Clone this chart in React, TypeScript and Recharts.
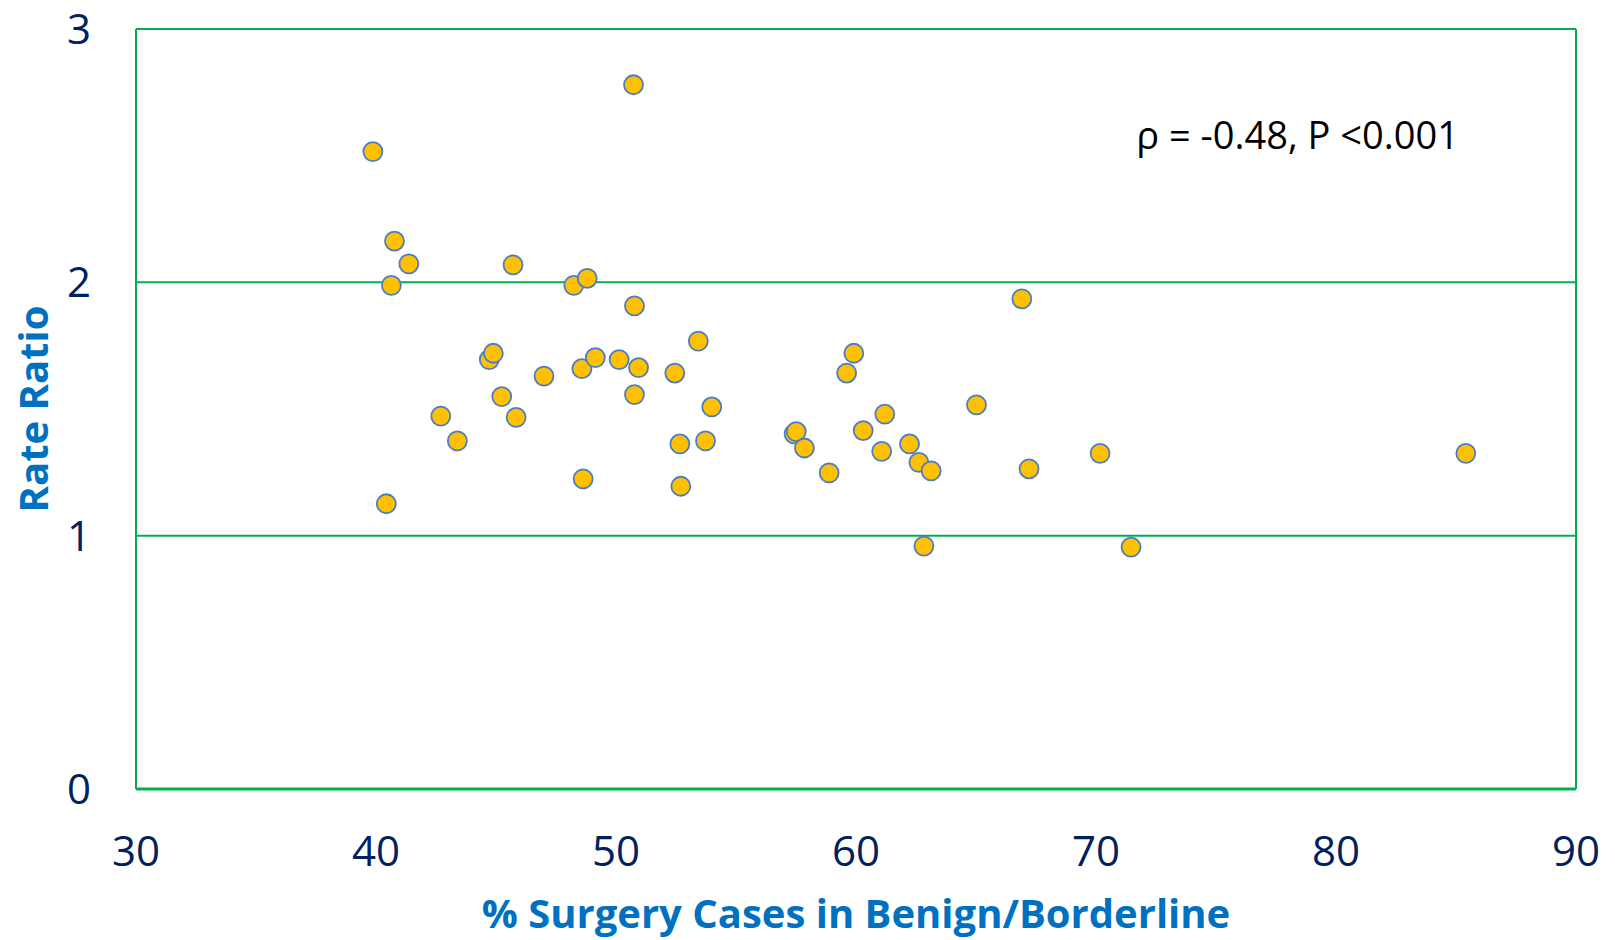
import React from "react";
import {
  ScatterChart,
  Scatter,
  XAxis,
  YAxis,
  CartesianGrid,
  ReferenceLine,
  ReferenceDot,
  Label,
} from "recharts";

// % of surgery cases in benign/borderline
const pctBenign = [
  39.87, 50.73, 40.77, 41.37, 40.64, 45.71, 48.24, 48.8, 50.77, 66.91,
  44.72, 44.89, 45.24, 45.84, 42.7, 43.39, 40.43, 47.0, 48.58, 49.14,
  50.13, 50.94, 50.77, 52.45, 53.43, 53.99, 52.66, 53.73, 48.63, 52.7,
  57.42, 57.51, 57.85, 58.88, 59.61, 59.91, 60.3, 61.2, 61.07, 62.23,
  62.62, 63.13, 62.83, 65.02, 67.21, 70.17, 71.46, 85.41,
];

// rate ratio
const rateRatio = [
  2.516, 2.78, 2.163, 2.073, 1.988, 2.069, 1.988, 2.016, 1.907, 1.935,
  1.695, 1.72, 1.549, 1.467, 1.472, 1.374, 1.126, 1.63, 1.659, 1.703,
  1.695, 1.663, 1.557, 1.642, 1.768, 1.508, 1.362, 1.374, 1.224, 1.195,
  1.402, 1.411, 1.346, 1.248, 1.642, 1.72, 1.415, 1.48, 1.333, 1.362,
  1.289, 1.256, 0.959, 1.516, 1.264, 1.325, 0.955, 1.325,
];

const xTicks = [30, 40, 50, 60, 70, 80, 90];
const yTicks = [0, 1, 2, 3];

const annotation = "ρ = -0.48, P <0.001";

const GREEN = "#00B050";
const NAVY = "#002060";
const TITLE_BLUE = "#0070C0";
const FONT = "'Open Sans', sans-serif";

const data = pctBenign.map((x, i) => ({ x, y: rateRatio[i] }));

const Dot = (props: any) => (
  <circle
    cx={props.cx}
    cy={props.cy}
    r={9.5}
    fill="#FFC000"
    stroke="#4A7EC2"
    strokeWidth={1.8}
  />
);

export default function App() {
  return (
    <div style={{ position: "absolute", left: 0, top: 0, background: "#fff" }}>
      <ScatterChart
        width={1615}
        height={940}
        margin={{ top: 29, right: 39, bottom: 0, left: 0 }}
      >
        <CartesianGrid
          horizontal
          vertical={false}
          stroke={GREEN}
          strokeWidth={2}
          horizontalValues={[1, 2, 3]}
        />
        <XAxis
          type="number"
          dataKey="x"
          domain={[30, 90]}
          ticks={xTicks}
          height={151}
          tickLine={false}
          tickMargin={41}
          axisLine={{ stroke: GREEN, strokeWidth: 3 }}
          tick={{ fill: NAVY, fontSize: 42, fontFamily: FONT }}
        >
          <Label
            value="% Surgery Cases in Benign/Borderline"
            position="insideBottom"
            offset={12}
            fill={TITLE_BLUE}
            fontSize={40}
            fontWeight="bold"
            fontFamily={FONT}
          />
        </XAxis>
        <YAxis
          type="number"
          dataKey="y"
          domain={[0, 3]}
          ticks={yTicks}
          width={136}
          tickLine={false}
          tickMargin={39}
          axisLine={{ stroke: GREEN, strokeWidth: 2 }}
          tick={{ fill: NAVY, fontSize: 42, fontFamily: FONT }}
        >
          <Label
            content={({ viewBox }: any) => {
              const cx = 32;
              const cy = viewBox.y + viewBox.height / 2;
              return (
                <text
                  x={cx}
                  y={cy}
                  transform={`rotate(-90 ${cx} ${cy})`}
                  textAnchor="middle"
                  dominantBaseline="central"
                  fill={TITLE_BLUE}
                  fontSize={40}
                  fontWeight="bold"
                  fontFamily={FONT}
                >
                  Rate Ratio
                </text>
              );
            }}
          />
        </YAxis>
        <ReferenceLine x={90} stroke={GREEN} strokeWidth={2} />
        <ReferenceDot x={78.4} y={2.58} r={0} stroke="none" fill="none">
          <Label
            value={annotation}
            position="center"
            fill="#000"
            fontSize={38}
            fontFamily={FONT}
          />
        </ReferenceDot>
        <Scatter data={data} shape={Dot} isAnimationActive={false} />
      </ScatterChart>
    </div>
  );
}
